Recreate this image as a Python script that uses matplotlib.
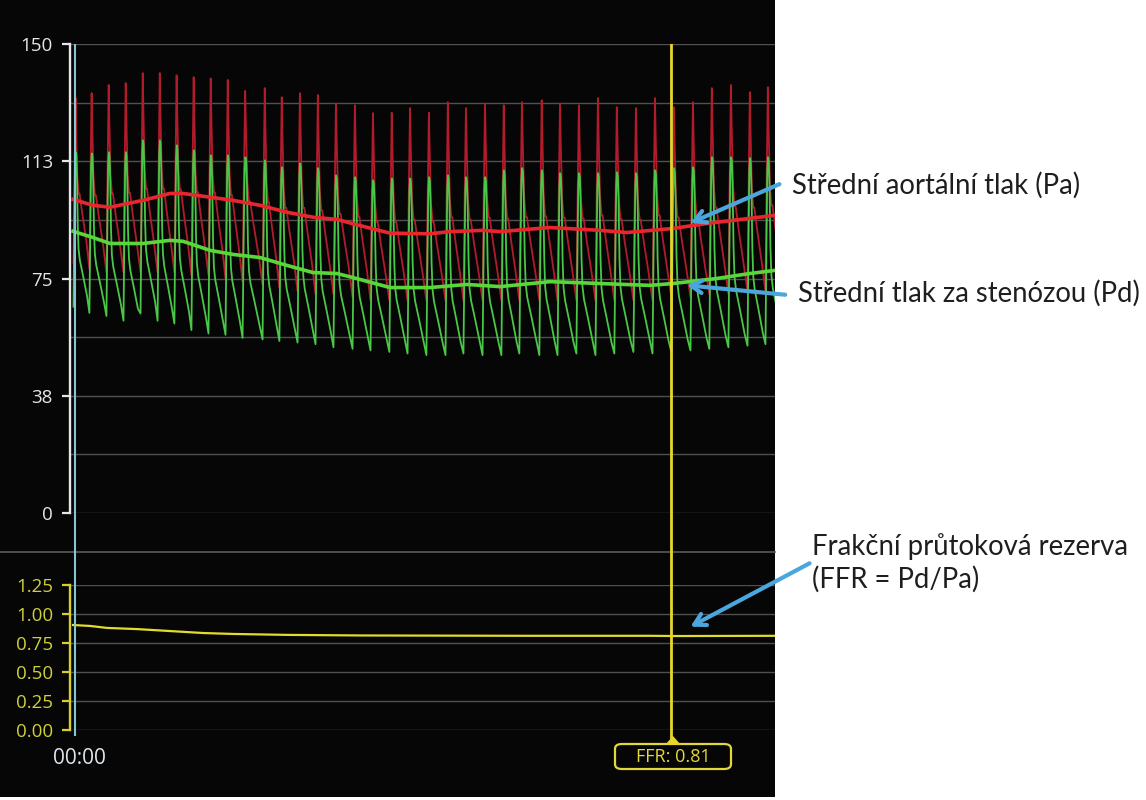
import matplotlib
matplotlib.use("Agg")
import matplotlib.pyplot as plt
from matplotlib.patches import Rectangle, FancyBboxPatch, FancyArrowPatch
from matplotlib.lines import Line2D

W, H = 1146, 800

# --- data ---------------------------------------------------------------
# beat onsets (s) and per-beat systolic / diastolic pressures (mmHg)
beat_onsets = [0.11, 0.81, 1.56, 2.31, 3.06, 3.81, 4.55, 5.30, 6.05, 6.80,
               7.55, 8.43, 9.17, 9.97, 10.76, 11.55, 12.39, 13.18, 14.01, 14.81,
               15.64, 16.48, 17.27, 18.11, 18.94, 19.73, 20.61, 21.41, 22.24, 23.08,
               23.91, 24.75, 25.59, 26.42, 27.26, 28.09, 28.93, 29.77, 30.56, 31.37]
pa_sys = [132.7, 134.3, 136.9, 137.5, 140.7, 140.7, 140.0, 139.4, 139.0, 138.5,
          135.0, 135.9, 133.0, 134.3, 133.7, 131.0, 130.4, 127.9, 128.0, 129.5,
          128.0, 131.4, 129.5, 131.0, 130.4, 131.4, 132.0, 131.0, 130.4, 132.7,
          129.8, 129.5, 132.7, 129.8, 131.4, 135.9, 136.9, 134.6, 136.2]
pa_dia = [80, 78, 77, 77, 77, 77, 77, 76, 76, 75,
          74, 73, 72, 71, 70, 70, 69, 68, 68, 68,
          68, 68, 68, 68, 68, 68, 68, 68, 68, 68,
          68, 68, 68, 69, 69, 70, 70, 71, 71]
pd_sys = [115.4, 115.0, 115.4, 115.4, 119.2, 119.2, 117.6, 116.0, 114.4, 114.4,
          113.8, 112.8, 110.6, 111.8, 110.3, 108.0, 107.4, 106.4, 107.0, 107.0,
          107.4, 108.0, 107.4, 107.4, 109.6, 110.3, 109.6, 108.7, 108.7, 108.7,
          109.0, 108.7, 109.6, 110.3, 110.6, 113.8, 113.8, 113.5, 113.8]
pd_dia = [66, 64, 63, 61.5, 63.8, 61.5, 60.6, 58.5, 57.4, 57.0,
          56, 55.5, 55, 54.5, 54, 53, 52.5, 52, 51.5, 51,
          50.5, 50.5, 51, 50.5, 50.5, 51, 50.5, 50.5, 51, 50.5,
          51, 51.5, 51, 51.5, 52, 52.5, 53, 53.5, 54]

# one cardiac cycle, normalised (phase within beat, level between dia and sys)
pa_shape_phase = [0.0, 0.06, 0.13, 0.17, 0.24, 0.32, 0.38, 0.55, 0.80, 1.0]
pa_shape_level = [0.0, 0.50, 1.0, 0.80, 0.52, 0.42, 0.42, 0.30, 0.14, 0.0]
pd_shape_phase = [0.0, 0.05, 0.10, 0.14, 0.18, 0.22, 0.27, 0.32, 0.40, 0.60, 0.85, 1.0]
pd_shape_level = [0.0, 0.50, 0.93, 1.0, 0.98, 0.84, 0.52, 0.37, 0.30, 0.20, 0.07, 0.0]

# mean pressures (s, mmHg)
pa_mean_t = [0.09, 0.97, 1.72, 3.17, 4.36, 4.93, 6.12, 7.13, 8.32, 9.50, 10.65,
             11.70, 12.41, 14.04, 15.80, 16.68, 18.13, 18.88, 21.08, 23.28, 24.46,
             26.49, 27.98, 29.13, 30.98]
pa_mean = [100.3, 98.4, 97.8, 100.0, 102.2, 102.2, 101.0, 100.0, 98.4, 96.2, 94.6,
           93.9, 92.5, 89.5, 89.3, 90.0, 90.4, 90.0, 91.3, 90.4, 89.7,
           91.0, 92.6, 93.6, 95.2]
pd_mean_t = [0.09, 0.97, 1.72, 3.17, 4.36, 4.93, 6.12, 7.13, 8.32, 9.50, 10.65,
             11.70, 12.41, 14.04, 15.80, 17.42, 18.88, 21.08, 23.28, 25.48, 26.49,
             28.42, 29.88, 30.98]
pd_mean = [90.1, 88.1, 86.2, 86.2, 87.2, 86.9, 84.0, 82.7, 81.7, 79.2, 76.9,
           76.6, 75.3, 72.1, 72.1, 73.1, 72.4, 74.0, 73.4, 72.8, 73.4,
           75.0, 76.6, 77.6]

# FFR trend
ffr_t = [0.09, 0.84, 1.58, 2.90, 4.36, 5.81, 7.13, 9.50, 12.72, 20.0, 25.5, 26.6, 30.98]
ffr = [0.905, 0.897, 0.88, 0.87, 0.853, 0.836, 0.828, 0.82, 0.815, 0.812, 0.812, 0.81, 0.812]

cursor_t = 26.40
ffr_cursor = 0.81
x_max = 30.98

pa_ticks = [0, 37.5, 75, 112.5, 150]
pa_ticklabels = ["0", "38", "75", "113", "150"]
pa_grid = [18.75, 56.25, 93.75, 131.25]
ffr_ticks = [0.0, 0.25, 0.5, 0.75, 1.0, 1.25]
ffr_ticklabels = ["0.00", "0.25", "0.50", "0.75", "1.00", "1.25"]


def build_trace(onsets, sys_vals, dia_vals, phase, level):
    t, y = [], []
    for i in range(len(sys_vals)):
        t0, t1 = onsets[i], onsets[i + 1]
        for p, lv in zip(phase[:-1], level[:-1]):
            t.append(t0 + p * (t1 - t0))
            y.append(dia_vals[i] + lv * (sys_vals[i] - dia_vals[i]))
    t.append(onsets[-1])
    y.append(dia_vals[-1])
    return t, y


def fbox(x0, y0, x1, y1):
    """pixel box (top-left origin) -> figure fraction rect"""
    return [x0 / W, 1 - y1 / H, (x1 - x0) / W, (y1 - y0) / H]


def fp(x, y):
    return (x / W, 1 - y / H)


BG = "#060606"
GRID = "#505050"
YEL = "#d9cf2c"
YEL_TXT = "#cfcf3a"
WHITE = "#e6e6e6"
BLUE = "#4aa6dc"
TICK_FONT = ["Open Sans", "DejaVu Sans"]
NOTE_FONT = ["Lato", "DejaVu Sans"]

fig = plt.figure(figsize=(W / 100, H / 100), dpi=100, facecolor="white")
fig.patches.append(Rectangle(fp(0, 797), 775 / W, 797 / H, transform=fig.transFigure,
                             facecolor=BG, edgecolor="none", zorder=-10))
fig.lines.append(Line2D([0, 775 / W], [1 - 552 / H] * 2, transform=fig.transFigure,
                        color="#5a5a5a", lw=1.2, zorder=-5))


def style_axis(a, ticks, labels, spine_col, label_col):
    # spine position first: moving it resets the tick objects
    for s in ["top", "right", "bottom"]:
        a.spines[s].set_visible(False)
    a.spines["left"].set_position(("outward", 1))
    a.spines["left"].set_color(spine_col)
    a.spines["left"].set_linewidth(1.7)
    a.set_facecolor("none")
    a.set_xlim(0, x_max)
    a.set_xticks([])
    a.set_yticks(ticks)
    a.set_yticklabels(labels)
    a.tick_params(axis="y", colors=spine_col, labelcolor=label_col, direction="out",
                  length=5.5, width=1.6, pad=6.5, labelsize=13.5)
    for lbl in a.get_yticklabels():
        lbl.set_family(TICK_FONT)


# --- pressure panel -------------------------------------------------------
ax = fig.add_axes(fbox(71, 44, 775, 513))
ax.set_ylim(0, 150)
for v in pa_ticks + pa_grid:
    ax.axhline(v, color=GRID, lw=1, zorder=1)

t, y = build_trace(beat_onsets, pa_sys, pa_dia, pa_shape_phase, pa_shape_level)
ax.plot(t, y, color="#b01c2c", lw=1.3, zorder=2)
t, y = build_trace(beat_onsets, pd_sys, pd_dia, pd_shape_phase, pd_shape_level)
ax.plot(t, y, color="#4ac648", lw=1.3, zorder=3)
ax.plot(pa_mean_t, pa_mean, color="#e8262e", lw=2.6, zorder=4)
ax.plot(pd_mean_t, pd_mean, color="#58d63a", lw=2.6, zorder=4)
style_axis(ax, pa_ticks, pa_ticklabels, WHITE, WHITE)

# --- FFR panel ------------------------------------------------------------
axf = fig.add_axes(fbox(71, 585, 775, 730))
axf.set_ylim(0, 1.25)
for v in ffr_ticks:
    axf.axhline(v, color=GRID, lw=1, zorder=1)
axf.plot(ffr_t, ffr, color="#e2dc2a", lw=1.6, zorder=3)
style_axis(axf, ffr_ticks, ffr_ticklabels, YEL, YEL_TXT)

# --- overlay: start marker, cursor and its readout -----------------------
axo = fig.add_axes(fbox(71, 44, 775, 742))
axo.set_xlim(0, x_max)
axo.set_ylim(0, 1)
axo.axis("off")
axo.plot([0.17, 0.17], [0.01, 1], color="#86c6d0", lw=1.5)
axo.plot([cursor_t, cursor_t], [0.0, 1], color="#e6d62a", lw=2)

fig.patches.append(FancyBboxPatch(fp(615, 769), 116 / W, 25 / H, transform=fig.transFigure,
                                  boxstyle="round,pad=0,rounding_size=0.006",
                                  facecolor=BG, edgecolor="#e2d83a", lw=1.6, zorder=5))
fig.text(673 / W, 1 - 757 / H, f"FFR: {ffr_cursor:.2f}", ha="center", va="center",
         family=TICK_FONT, fontsize=13, color="#e2d83a", zorder=6)
fig.patches.append(plt.Polygon([fp(665, 745), fp(681, 745), fp(673, 736)], closed=True,
                               transform=fig.transFigure, facecolor="#e6d62a",
                               edgecolor="none", zorder=6))
fig.text(79 / W, 1 - 758 / H, "00:00", ha="center", va="center",
         family=TICK_FONT, fontsize=15, color="#dfe4ea")

# --- annotations ----------------------------------------------------------
notes = [
    ("Střední aortální tlak (Pa)", (792, 185), (782, 183), (688, 224)),
    ("Střední tlak za stenózou (Pd)", (798, 293), (788, 295), (684, 285)),
    ("Frakční průtoková rezerva\n(FFR = Pd/Pa)", (812, 563), (812, 562), (688, 628)),
]
for txt, pos, start, tip in notes:
    fig.text(pos[0] / W, 1 - pos[1] / H, txt, ha="left", va="center",
             family=NOTE_FONT, fontsize=19.8, color="#1e1e1e", linespacing=1.3)
    fig.patches.append(FancyArrowPatch(
        fp(*start), fp(*tip), transform=fig.transFigure,
        arrowstyle="->,head_length=8,head_width=4.5", color=BLUE, lw=3, zorder=7))

fig.savefig("out.png", dpi=100, facecolor="white")
